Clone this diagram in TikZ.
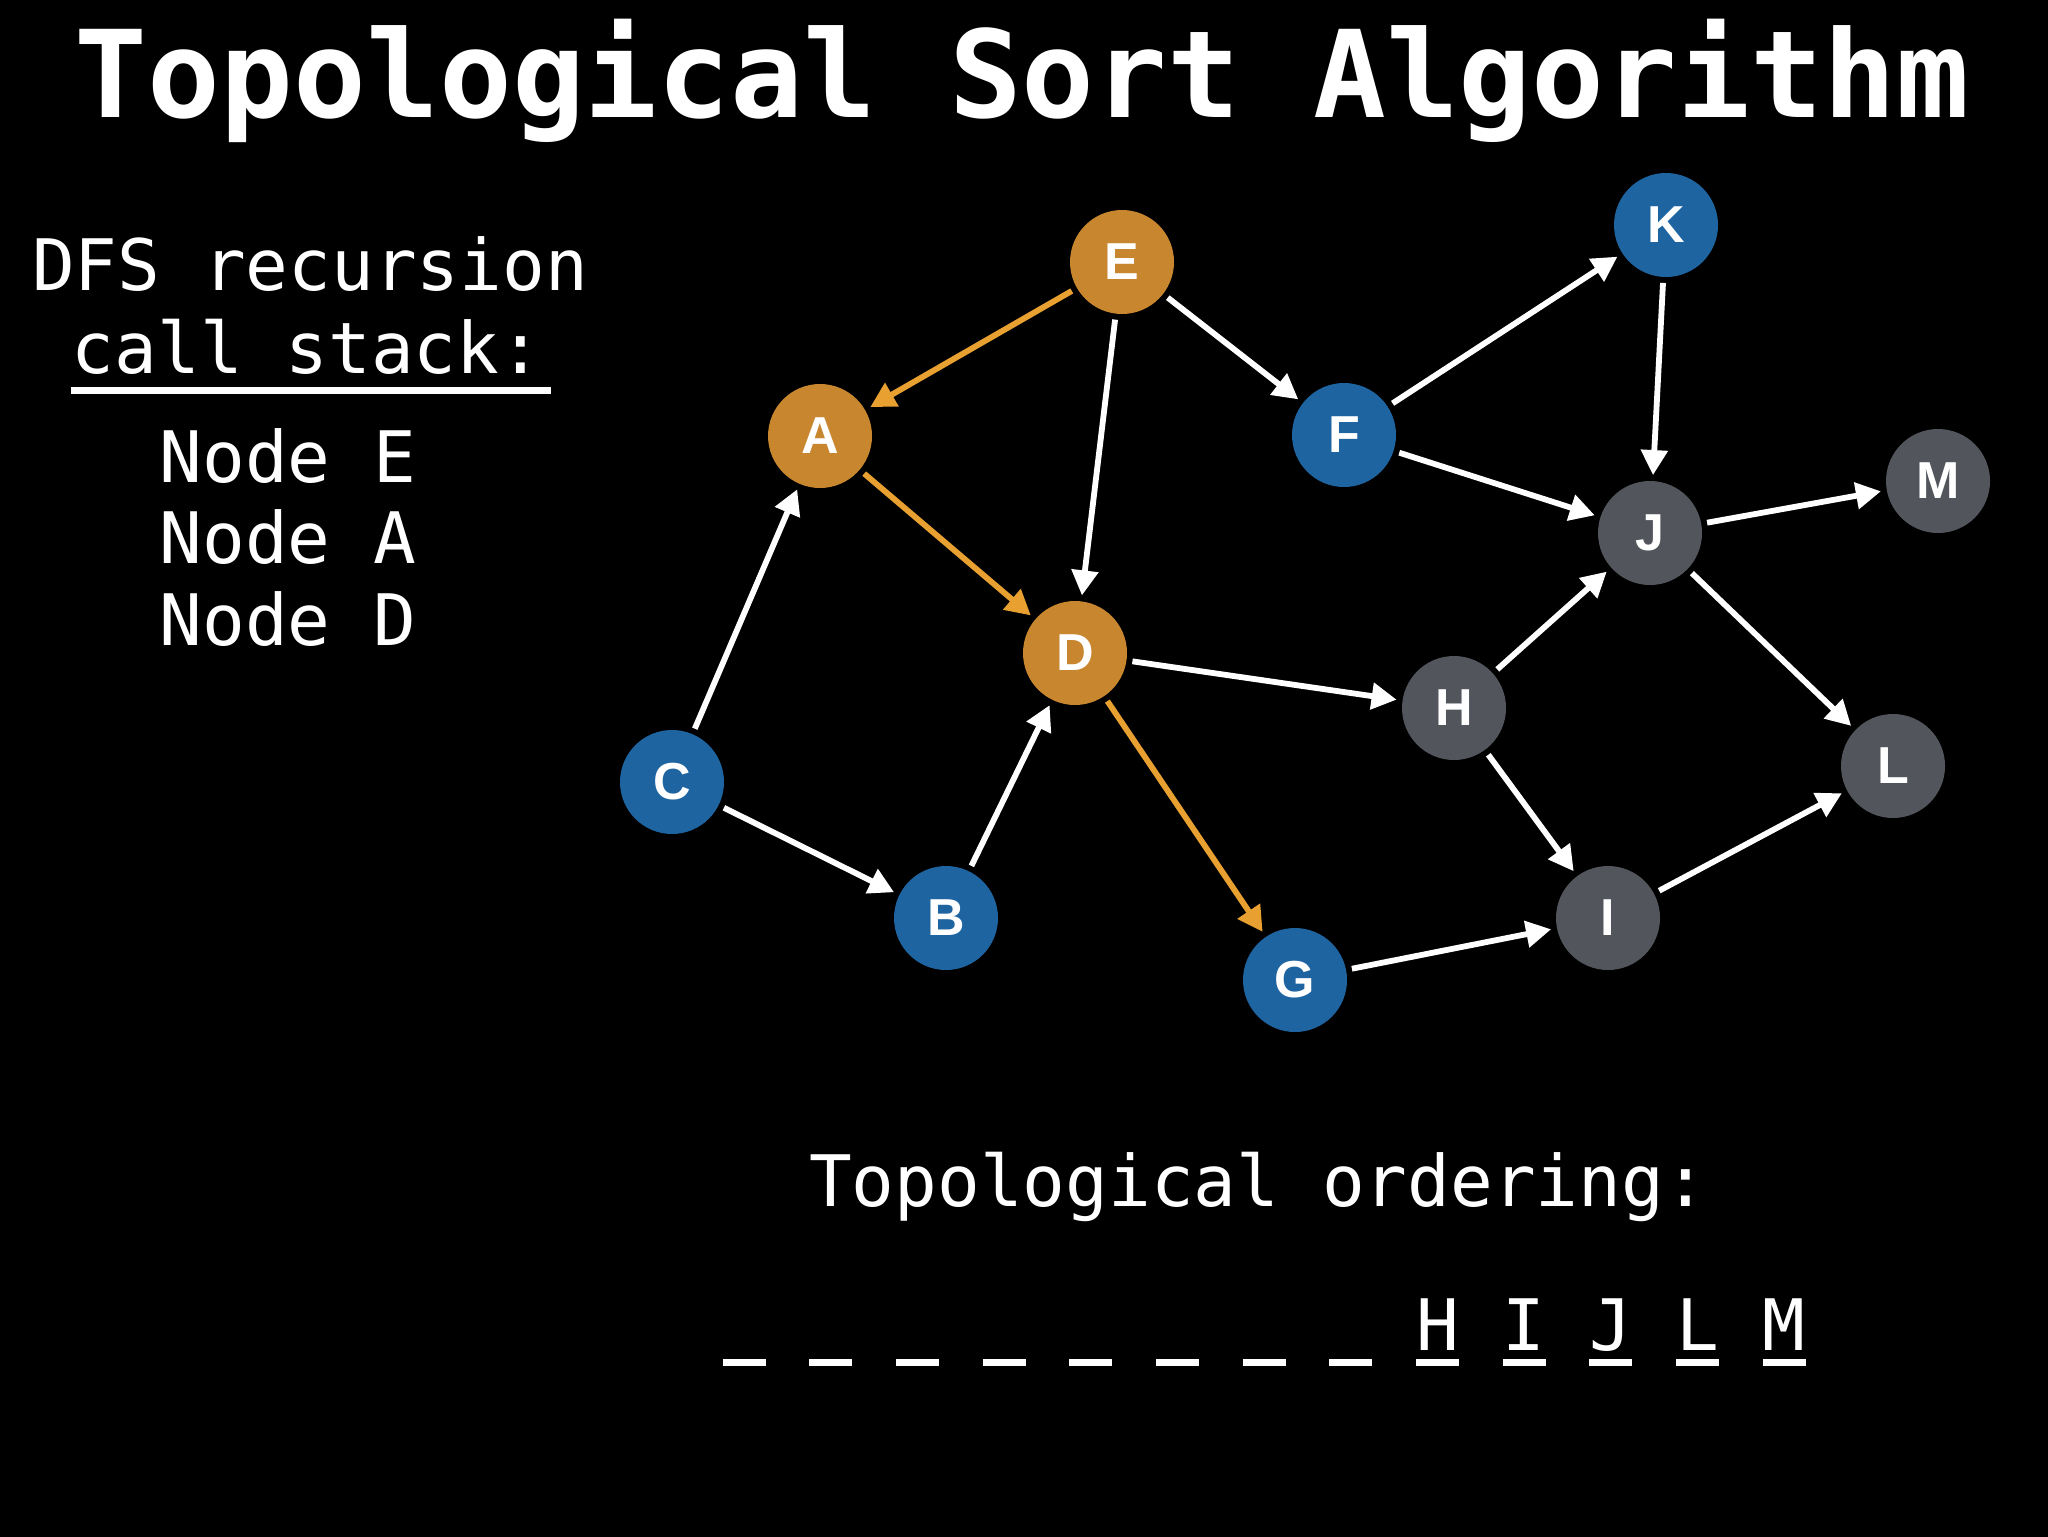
\documentclass[tikz,border=0pt]{standalone}
\usepackage{fontspec}
\setmonofont{DejaVu Sans Mono}
\newfontfamily\nodefont{Liberation Sans}
\usetikzlibrary{arrows.meta}
\definecolor{orangenode}{HTML}{C8862F}
\definecolor{orangeedge}{HTML}{E8A030}
\definecolor{bluenode}{HTML}{1E64A0}
\definecolor{graynode}{HTML}{52565C}
\tikzset{
  vert/.style={circle, minimum size=52pt, inner sep=0pt, outer sep=3pt, text=white,
    font=\nodefont\bfseries\fontsize{26}{26}\selectfont},
  vorange/.style={vert, fill=orangenode},
  vblue/.style={vert, fill=bluenode},
  vgray/.style={vert, fill=graynode},
  edge/.style={draw=white, line width=2.9pt, -{Triangle[length=12.5pt,width=13pt]}},
  hot/.style={edge, draw=orangeedge},
  label/.style={anchor=base, text=white, font=\ttfamily\fontsize{35.5}{35.5}\selectfont},
  blank/.style={draw=white, line width=3.5pt}
}
\begin{document}
\begin{tikzpicture}[x=0.5pt,y=-0.5pt]
\useasboundingbox (0,0) rectangle (2048,1536);
\fill[black] (-10,-10) rectangle (2058,1546);

% title
\node[anchor=base, text=white, font=\ttfamily\bfseries\fontsize{60.5}{60.5}\selectfont] (title) at (1022,118) {Topological Sort Algorithm};

% call stack
\node[label] (dfs1) at (310,290) {DFS recursion};
\node[label] (dfs2) at (307,373) {call stack:};
\draw[white, line width=3.5pt] (71,390) -- (551,390);
\node[label] (s1) at (288,482) {Node E};
\node[label] (s2) at (288,563) {Node A};
\node[label] (s3) at (288,645) {Node D};

% vertices
\node[vorange] (E) at (1122,262) {E};
\node[vorange] (A) at (820,436) {A};
\node[vblue]   (F) at (1344,435) {F};
\node[vblue]   (K) at (1666,225) {K};
\node[vgray]   (J) at (1650,533) {J};
\node[vgray]   (M) at (1938,481) {M};
\node[vorange] (D) at (1075,653) {D};
\node[vgray]   (H) at (1454,708) {H};
\node[vgray]   (L) at (1893,766) {L};
\node[vblue]   (C) at (672,782) {C};
\node[vblue]   (B) at (946,918) {B};
\node[vgray]   (I) at (1608,918) {I};
\node[vblue]   (G) at (1295,980) {G};

% edges
\draw[hot]  (E) -- (A);
\draw[edge] (E) -- (D);
\draw[edge] (E) -- (F);
\draw[hot]  (A) -- (D);
\draw[edge] (C) -- (A);
\draw[edge] (C) -- (B);
\draw[edge] (B) -- (D);
\draw[edge] (D) -- (H);
\draw[hot]  (D) -- (G);
\draw[edge] (F) -- (K);
\draw[edge] (F) -- (J);
\draw[edge] (K) -- (J);
\draw[edge] (J) -- (M);
\draw[edge] (J) -- (L);
\draw[edge] (H) -- (J);
\draw[edge] (H) -- (I);
\draw[edge] (I) -- (L);
\draw[edge] (G) -- (I);

% ordering
\node[label] (ord) at (1258,1206) {Topological ordering:};
\foreach \i in {0,...,12} {
  \draw[blank] ({744+86.67*\i-21.5},1362.5) -- ({744+86.67*\i+21.5},1362.5);
}
\node[label] (oH) at ({744+86.67*8},1350) {H};
\node[label] (oI) at ({744+86.67*9},1350) {I};
\node[label] (oJ) at ({744+86.67*10},1350) {J};
\node[label] (oL) at ({744+86.67*11},1350) {L};
\node[label] (oM) at ({744+86.67*12},1350) {M};
\end{tikzpicture}
\end{document}
